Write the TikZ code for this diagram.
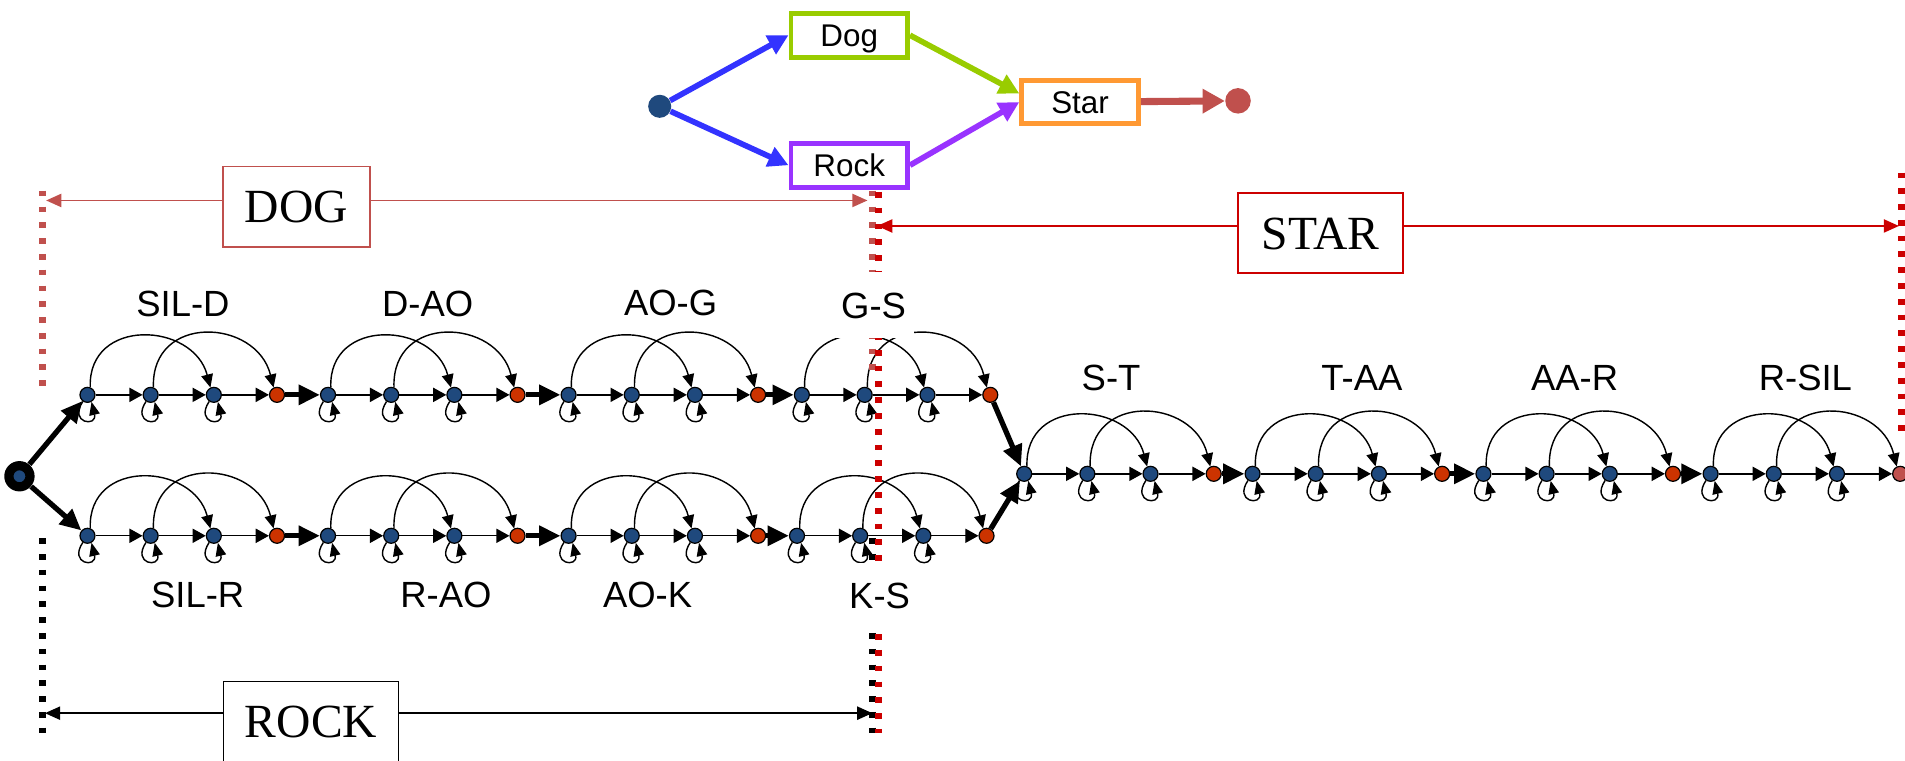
\documentclass[tikz,border=0pt]{standalone}
\usepackage{fontspec}
\setmainfont{Liberation Serif}
\setsansfont{Liberation Sans}
\usetikzlibrary{arrows.meta}
\definecolor{nblue}{HTML}{1F497D}
\definecolor{nred}{HTML}{CC3300}
\definecolor{dred}{HTML}{C0504D}
\definecolor{sred}{HTML}{CC0000}
\definecolor{dgreen}{HTML}{99CC00}
\definecolor{dpurple}{HTML}{9933FF}
\definecolor{dorange}{HTML}{FF9933}
\definecolor{dblue}{HTML}{3333FF}
\newcommand\mkgroup[5]{%
  \foreach \i in {1,2,3}{\node[st] (#1\i) at ({#2+(\i-1)*#3},#4) {};}
  \node[#5] (#14) at ({#2+3*#3},#4) {};
  \draw[fwd] (#11) -- (#12);
  \draw[fwd] (#12) -- (#13);
  \draw[fwd] (#13) -- (#14);
  \draw[arcar] (#11.70) .. controls +(-2,-58) and +(-14,-54) .. (#13.115);
  \draw[arcar] (#12.70) .. controls +(-2,-61) and +(-14,-57) .. (#14.115);
  \foreach \i in {1,2,3}{\draw[loopar] (#1\i.235) .. controls +(-12,18) and +(5,21) .. (#1\i.300);}
}
\begin{document}
\begin{tikzpicture}[x=0.6pt,y=-0.6pt,
 st/.style={circle,draw=black,line width=0.6pt,fill=nblue,inner sep=0pt,minimum size=7.4pt},
 fin/.style={st,fill=nred},
 last/.style={st,fill=dred},
 fwd/.style={line width=0.7pt,-{Triangle[length=6.5pt,width=7pt]}},
 arcar/.style={line width=0.7pt,-{Triangle[length=6.5pt,width=5.8pt]}},
 loopar/.style={line width=0.7pt,-{Triangle[length=6.5pt,width=5.2pt]}},
 jump/.style={line width=2.6pt,-{Triangle[length=10.5pt,width=9.5pt]}},
 lab/.style={font=\sffamily\fontsize{18}{20}\selectfont,inner sep=0pt,text height=12.9pt,text depth=0pt},
 labw/.style={lab,fill=white,minimum width=40pt,minimum height=32.5pt},
 wbox/.style={draw,line width=2.4pt,fill=white,inner sep=0pt,minimum width=57.6pt,minimum height=21.6pt,font=\sffamily\fontsize{15.5}{17}\selectfont,text height=11.1pt,text depth=0pt},
 big/.style={line width=2.8pt,-{Triangle[length=10pt,width=10pt]}},
 dimbox/.style={draw,line width=0.9pt,fill=white,inner sep=0pt,minimum height=39.6pt,font=\fontsize{23.5}{26}\selectfont,text height=15.6pt,text depth=0pt},
 dimar/.style={line width=0.9pt,-{Triangle[length=7.5pt,width=6.5pt]}},
 dotv/.style={line width=3.6pt,dash pattern=on 2.8pt off 5pt}
]
\useasboundingbox (0,0) rectangle (1568,625.6);

% ---- HMM chains ----
\mkgroup{ta}{72}{52}{325}{fin}
\mkgroup{tb}{270}{52}{325}{fin}
\mkgroup{tc}{468}{52}{325}{fin}
\mkgroup{td}{660}{51.7}{325}{fin}
\mkgroup{ba}{72}{52}{441}{fin}
\mkgroup{bb}{270}{52}{441}{fin}
\mkgroup{bc}{468}{52}{441}{fin}
\mkgroup{bd}{656}{52}{441}{fin}
\mkgroup{ra}{843}{52}{390}{fin}
\mkgroup{rb}{1031}{52}{390}{fin}
\mkgroup{rc}{1221}{52}{390}{fin}
\mkgroup{rd}{1408}{52}{390}{last}

\draw[jump] (ta4) -- (tb1);
\draw[jump] (tb4) -- (tc1);
\draw[jump] (tc4) -- (td1);
\draw[jump] (ba4) -- (bb1);
\draw[jump] (bb4) -- (bc1);
\draw[jump] (bc4) -- (bd1);
\draw[jump] (ra4) -- (rb1);
\draw[jump] (rb4) -- (rc1);
\draw[jump] (rc4) -- (rd1);
\draw[jump] (td4) -- (ra1);
\draw[jump] (bd4) -- (ra1);

\node[circle,fill=black,inner sep=0pt,minimum size=15pt] (s0) at (16,392) {};
\node[st,minimum size=6.5pt] (s0in) at (s0) {};
\draw[jump] (s0) -- (ta1);
\draw[jump] (s0) -- (ba1);

% ---- dotted word boundaries ----
\coordinate (dlt) at (35,157); \coordinate (dlb) at (35,320);
\coordinate (drt) at (718,157); \coordinate (drb) at (718,310);
\coordinate (slt) at (723,158); \coordinate (slb) at (723,603);
\coordinate (srt) at (1565,142); \coordinate (srb) at (1565,358);
\coordinate (klt) at (35,443); \coordinate (klb) at (35,603);
\coordinate (krt) at (718,443); \coordinate (krb) at (718,603);
\draw[dotv,dred] (dlt) -- (dlb);
\draw[dotv,dred] (drt) -- (drb);
\draw[dotv,black] (klt) -- (klb);
\draw[dotv,black] (krt) -- (krb);
\draw[dotv,sred] (slt) -- (slb);
\draw[dotv,sred] (srt) -- (srb);

% ---- dimension lines ----
\node[dimbox,draw=dred,minimum width=72.6pt] (dogbox) at (244,170) {DOG};
\coordinate (dogL) at (38,165); \coordinate (dogR) at (714,165);
\draw[dimar,dred] (dogbox.west |- dogL) -- (dogL);
\draw[dimar,dred] (dogbox.east |- dogR) -- (dogR);

\node[dimbox,draw=sred,minimum width=81.6pt] (starbox) at (1087,192) {STAR};
\coordinate (starL) at (722,186); \coordinate (starR) at (1563,186);
\draw[dimar,sred] (starbox.west |- starL) -- (starL);
\draw[dimar,sred] (starbox.east |- starR) -- (starR);

\node[dimbox,draw=black,minimum width=86.4pt] (rockbox) at (256,594) {ROCK};
\coordinate (rockL) at (37,587); \coordinate (rockR) at (718,587);
\draw[dimar] (rockbox.west |- rockL) -- (rockL);
\draw[dimar] (rockbox.east |- rockR) -- (rockR);

% ---- labels ----
\node[lab] (lsild) at (150.6,250) {SIL-D};
\node[lab] (ldao) at (352,250) {D-AO};
\node[lab] (laog) at (552,249) {AO-G};
\node[labw] (lgs) at (719,251) {G-S};
\node[lab] (lsilr) at (162.7,489) {SIL-R};
\node[lab] (lrao) at (367,489) {R-AO};
\node[lab] (laok) at (533,489) {AO-K};
\node[labw] (lks) at (724,490.5) {K-S};
\node[lab] (lst) at (914.5,311) {S-T};
\node[lab] (ltaa) at (1121,311) {T-AA};
\node[lab] (laar) at (1296,311) {AA-R};
\node[lab] (lrsil) at (1486,311) {R-SIL};

% ---- word graph ----
\node[circle,fill=nblue,inner sep=0pt,minimum size=11.4pt] (gs) at (543,87.5) {};
\node[circle,fill=dred,inner sep=0pt,minimum size=12.6pt] (ge) at (1019,83) {};
\node[wbox,draw=dgreen] (dog) at (699,29) {Dog};
\node[wbox,draw=dpurple] (rock) at (699,136) {Rock};
\node[wbox,draw=dorange] (star) at (889,84) {Star};
\draw[big,dblue] (gs) -- (dog.west);
\draw[big,dblue] (gs) -- (rock.west);
\draw[big,dgreen] (dog.east) -- (star.172);
\draw[big,dpurple] (rock.east) -- (star.west);
\draw[line width=3.5pt,dred,-{Triangle[length=11pt,width=11.5pt]}] (star) -- (ge);
\end{tikzpicture}
\end{document}
